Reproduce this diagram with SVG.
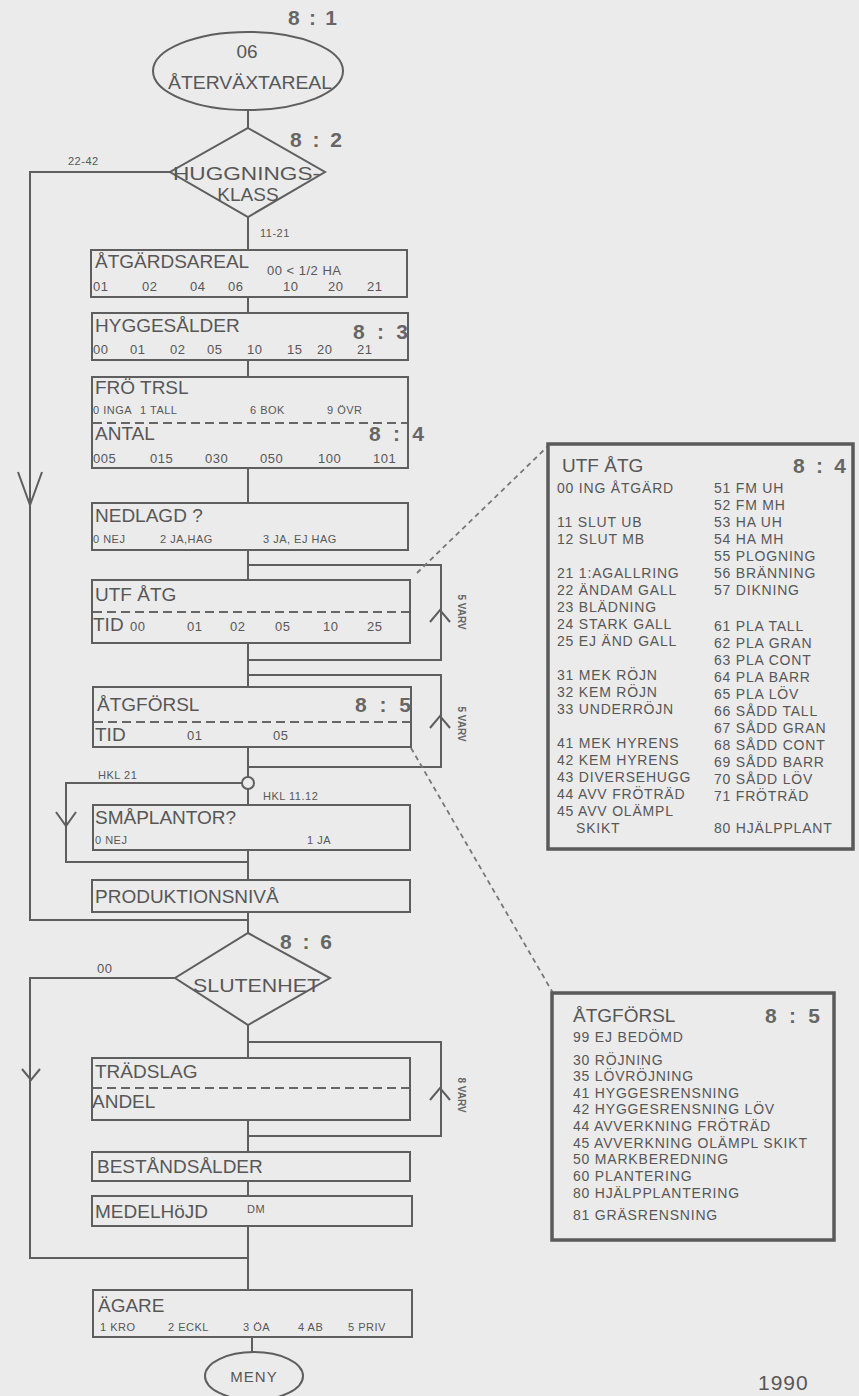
<svg xmlns="http://www.w3.org/2000/svg" width="859" height="1396" viewBox="0 0 859 1396">
<style>
.bg{fill:#ebebeb}
.ln{fill:none;stroke:#5e5e5e;stroke-width:2}
.bx{fill:none;stroke:#5e5e5e;stroke-width:2}
.bb{fill:none;stroke:#5a5a5a;stroke-width:3.5}
.ds{fill:none;stroke:#666;stroke-width:1.8;stroke-dasharray:9 5}
.ld{fill:none;stroke:#777;stroke-width:1.8;stroke-dasharray:5 4}
text{font-family:"Liberation Sans",Arial,sans-serif;fill:#575757}
.ti{font-size:19px}
.rw{font-size:13px;letter-spacing:0.5px}
.sm{font-size:11px;letter-spacing:0.5px}
.nm{font-size:21px;font-weight:bold;fill:#666}
.lt{font-size:14px;letter-spacing:0.8px}
.vr{font-size:10px;font-weight:bold;fill:#666}
</style>
<rect class="bg" x="0" y="0" width="859" height="1396"/>

<g id="connectors">
<path class="ln" d="M248,110V128M248,217V250M248,297V313M248,360V377M248,468V503M248,550V580M248,643V687M248,747V777M248,789V805M248,850V880M248,912V933M248,1025V1058M248,1120V1152M248,1181V1196M248,1226V1290M252,1337V1352"/>
<path class="ln" d="M248,565H441V660H248"/>
<path class="ln" d="M248,675H441V767H248"/>
<path class="ln" d="M242,783H66V862H248"/>
<path class="ln" d="M170,172H30V920H248"/>
<path class="ln" d="M175,978H30V1258H248"/>
<path class="ln" d="M248,1042H441V1136H248"/>
<circle class="ln" cx="248" cy="783" r="6" fill="#ebebeb"/>
<path class="ln" d="M18,472L30,505L42,472"/>
<path class="ln" d="M56,812L66,826L76,812"/>
<path class="ln" d="M22,1069L31,1080L40,1069"/>
<path class="ln" stroke-width="1.6" d="M430,622L440,610L450,622"/>
<path class="ln" stroke-width="1.6" d="M430,728L440,716L450,728"/>
<path class="ln" stroke-width="1.6" d="M430,1100L440,1088L450,1100"/>
<path class="ld" d="M417,573L547,447"/>
<path class="ld" d="M411,748L553,993"/>
<text class="sm" x="68" y="165">22-42</text>
<text class="sm" x="260" y="237">11-21</text>
<text class="sm" x="98" y="779">HKL 21</text>
<text class="sm" x="263" y="800">HKL 11.12</text>
<text class="rw" x="97" y="973">00</text>
<text class="vr" transform="translate(458,612) rotate(90)" text-anchor="middle">5 VARV</text>
<text class="vr" transform="translate(458,724) rotate(90)" text-anchor="middle">5 VARV</text>
<text class="vr" transform="translate(458,1095) rotate(90)" text-anchor="middle">8 VARV</text>
</g>

<g id="start">
<ellipse class="bx" cx="248" cy="71" rx="95" ry="39"/>
<text class="nm" x="288" y="25" textLength="49">8 : 1</text>
<text class="ti" x="247" y="58" text-anchor="middle">06</text>
<text class="ti" x="168" y="89" textLength="164" lengthAdjust="spacingAndGlyphs">ÅTERVÄXTAREAL</text>
</g>

<g id="huggningsklass">
<path class="bx" d="M248,128L325,172L248,217L170,172Z" fill="#ebebeb"/>
<text class="nm" x="290" y="147" textLength="52">8 : 2</text>
<text class="ti" x="173" y="180" textLength="147" lengthAdjust="spacingAndGlyphs">HUGGNINGS-</text>
<text class="ti" x="248" y="201" text-anchor="middle">KLASS</text>
</g>

<g id="atgardsareal">
<rect class="bx" x="91" y="250" width="316" height="47"/>
<text class="ti" x="95" y="268">ÅTGÄRDSAREAL</text>
<text class="rw" x="267" y="275">00 &lt; 1/2 HA</text>
<text class="rw" x="93" y="291">01</text><text class="rw" x="142" y="291">02</text><text class="rw" x="190" y="291">04</text><text class="rw" x="228" y="291">06</text><text class="rw" x="283" y="291">10</text><text class="rw" x="328" y="291">20</text><text class="rw" x="367" y="291">21</text>
</g>

<g id="hyggesalder">
<rect class="bx" x="92" y="313" width="316" height="47"/>
<text class="ti" x="95" y="332">HYGGESÅLDER</text>
<text class="nm" x="353" y="339" textLength="55">8 : 3</text>
<text class="rw" x="93" y="354">00</text><text class="rw" x="130" y="354">01</text><text class="rw" x="170" y="354">02</text><text class="rw" x="207" y="354">05</text><text class="rw" x="247" y="354">10</text><text class="rw" x="287" y="354">15</text><text class="rw" x="317" y="354">20</text><text class="rw" x="357" y="354">21</text>
</g>

<g id="frotrsl">
<rect class="bx" x="92" y="377" width="316" height="91"/>
<text class="ti" x="95" y="394">FRÖ TRSL</text>
<text class="sm" x="93" y="414">0 INGA</text><text class="sm" x="140" y="414">1 TALL</text><text class="sm" x="250" y="414">6 BOK</text><text class="sm" x="327" y="414">9 ÖVR</text>
<line class="ds" x1="93" y1="423" x2="407" y2="423"/>
<text class="ti" x="95" y="440" font-size="18">ANTAL</text>
<text class="nm" x="369" y="441" textLength="55">8 : 4</text>
<text class="rw" x="93" y="463">005</text><text class="rw" x="150" y="463">015</text><text class="rw" x="205" y="463">030</text><text class="rw" x="260" y="463">050</text><text class="rw" x="318" y="463">100</text><text class="rw" x="373" y="463">101</text>
</g>

<g id="nedlagd">
<rect class="bx" x="92" y="503" width="316" height="47"/>
<text class="ti" x="95" y="522">NEDLAGD ?</text>
<text class="sm" x="93" y="543">0 NEJ</text><text class="sm" x="160" y="543">2 JA,HAG</text><text class="sm" x="263" y="543">3 JA, EJ HAG</text>
</g>

<g id="utfatg">
<rect class="bx" x="92" y="580" width="318" height="63"/>
<text class="ti" x="95" y="601">UTF ÅTG</text>
<line class="ds" x1="93" y1="612" x2="409" y2="612"/>
<text class="ti" x="93" y="631" font-size="17">TID</text>
<text class="rw" x="130" y="631">00</text><text class="rw" x="187" y="631">01</text><text class="rw" x="230" y="631">02</text><text class="rw" x="275" y="631">05</text><text class="rw" x="323" y="631">10</text><text class="rw" x="367" y="631">25</text>
</g>

<g id="atgforsl">
<rect class="bx" x="93" y="687" width="318" height="60"/>
<text class="ti" x="97" y="711">ÅTGFÖRSL</text>
<text class="nm" x="355" y="712" textLength="56">8 : 5</text>
<line class="ds" x1="94" y1="722" x2="410" y2="722"/>
<text class="ti" x="95" y="741" font-size="17">TID</text>
<text class="rw" x="187" y="740">01</text><text class="rw" x="273" y="740">05</text>
</g>

<g id="smaplantor">
<rect class="bx" x="93" y="805" width="317" height="45"/>
<text class="ti" x="95" y="824">SMÅPLANTOR?</text>
<text class="sm" x="95" y="844">0 NEJ</text><text class="sm" x="307" y="844">1 JA</text>
</g>

<g id="produktionsniva">
<rect class="bx" x="92" y="880" width="318" height="32"/>
<text class="ti" x="95" y="903">PRODUKTIONSNIVÅ</text>
</g>

<g id="slutenhet">
<path class="bx" d="M248,933L330,978L248,1025L175,978Z" fill="#ebebeb"/>
<text class="nm" x="280" y="949" textLength="52">8 : 6</text>
<text class="ti" x="193" y="992" font-size="17" textLength="127" lengthAdjust="spacingAndGlyphs">SLUTENHET</text>
</g>

<g id="tradslag">
<rect class="bx" x="92" y="1058" width="318" height="62"/>
<text class="ti" x="95" y="1078" font-size="17">TRÄDSLAG</text>
<line class="ds" x1="93" y1="1088" x2="409" y2="1088"/>
<text class="ti" x="92" y="1108" font-size="17">ANDEL</text>
</g>

<g id="bestandsalder">
<rect class="bx" x="92" y="1152" width="318" height="29"/>
<text class="ti" x="97" y="1173">BESTÅNDSÅLDER</text>
</g>

<g id="medelhojd">
<rect class="bx" x="92" y="1196" width="320" height="30"/>
<text class="ti" x="95" y="1218">MEDELHöJD</text>
<text class="sm" x="247" y="1213" font-size="10">DM</text>
</g>

<g id="agare">
<rect class="bx" x="93" y="1290" width="319" height="47"/>
<text class="ti" x="98" y="1312">ÄGARE</text>
<text class="sm" x="100" y="1331">1 KRO</text><text class="sm" x="168" y="1331">2 ECKL</text><text class="sm" x="243" y="1331">3 ÖA</text><text class="sm" x="298" y="1331">4 AB</text><text class="sm" x="348" y="1331">5 PRIV</text>
</g>

<g id="meny">
<ellipse class="bx" cx="254" cy="1376" rx="49" ry="24"/>
<text x="254" y="1382" text-anchor="middle" font-size="15" fill="#777" letter-spacing="1">MENY</text>
</g>

<g id="utfatg-list">
<rect class="bb" x="548" y="444" width="305" height="405"/>
<text class="ti" x="562" y="472" font-size="21">UTF ÅTG</text>
<text class="nm" x="793" y="473" textLength="53">8 : 4</text>
<text class="lt" x="557" y="493">00 ING ÅTGÄRD</text>
<text class="lt" x="557" y="527">11 SLUT UB</text>
<text class="lt" x="557" y="544">12 SLUT MB</text>
<text class="lt" x="557" y="578">21 1:AGALLRING</text>
<text class="lt" x="557" y="595">22 ÄNDAM GALL</text>
<text class="lt" x="557" y="612">23 BLÄDNING</text>
<text class="lt" x="557" y="629">24 STARK GALL</text>
<text class="lt" x="557" y="646">25 EJ ÄND GALL</text>
<text class="lt" x="557" y="680">31 MEK RÖJN</text>
<text class="lt" x="557" y="697">32 KEM RÖJN</text>
<text class="lt" x="557" y="714">33 UNDERRÖJN</text>
<text class="lt" x="557" y="748">41 MEK HYRENS</text>
<text class="lt" x="557" y="765">42 KEM HYRENS</text>
<text class="lt" x="557" y="782">43 DIVERSEHUGG</text>
<text class="lt" x="557" y="799">44 AVV FRÖTRÄD</text>
<text class="lt" x="557" y="816">45 AVV OLÄMPL</text>
<text class="lt" x="576" y="833">SKIKT</text>
<text class="lt" x="714" y="493">51 FM UH</text>
<text class="lt" x="714" y="510">52 FM MH</text>
<text class="lt" x="714" y="527">53 HA UH</text>
<text class="lt" x="714" y="544">54 HA MH</text>
<text class="lt" x="714" y="561">55 PLOGNING</text>
<text class="lt" x="714" y="578">56 BRÄNNING</text>
<text class="lt" x="714" y="595">57 DIKNING</text>
<text class="lt" x="714" y="631">61 PLA TALL</text>
<text class="lt" x="714" y="648">62 PLA GRAN</text>
<text class="lt" x="714" y="665">63 PLA CONT</text>
<text class="lt" x="714" y="682">64 PLA BARR</text>
<text class="lt" x="714" y="699">65 PLA LÖV</text>
<text class="lt" x="714" y="716">66 SÅDD TALL</text>
<text class="lt" x="714" y="733">67 SÅDD GRAN</text>
<text class="lt" x="714" y="750">68 SÅDD CONT</text>
<text class="lt" x="714" y="767">69 SÅDD BARR</text>
<text class="lt" x="714" y="784">70 SÅDD LÖV</text>
<text class="lt" x="714" y="801">71 FRÖTRÄD</text>
<text class="lt" x="714" y="833">80 HJÄLPPLANT</text>
</g>

<g id="atgforsl-list">
<rect class="bb" x="552" y="993" width="282" height="247"/>
<text class="ti" x="573" y="1022" font-size="20">ÅTGFÖRSL</text>
<text class="nm" x="765" y="1023" textLength="55">8 : 5</text>
<text class="lt" x="573" y="1042">99 EJ BEDÖMD</text>
<text class="lt" x="573" y="1065">30 RÖJNING</text>
<text class="lt" x="573" y="1081">35 LÖVRÖJNING</text>
<text class="lt" x="573" y="1098">41 HYGGESRENSNING</text>
<text class="lt" x="573" y="1114">42 HYGGESRENSNING LÖV</text>
<text class="lt" x="573" y="1131">44 AVVERKNING FRÖTRÄD</text>
<text class="lt" x="573" y="1148">45 AVVERKNING OLÄMPL SKIKT</text>
<text class="lt" x="573" y="1164">50 MARKBEREDNING</text>
<text class="lt" x="573" y="1181">60 PLANTERING</text>
<text class="lt" x="573" y="1198">80 HJÄLPPLANTERING</text>
<text class="lt" x="573" y="1220">81 GRÄSRENSNING</text>
</g>

<text x="758" y="1390" font-size="21" fill="#777" letter-spacing="1">1990</text>
</svg>
